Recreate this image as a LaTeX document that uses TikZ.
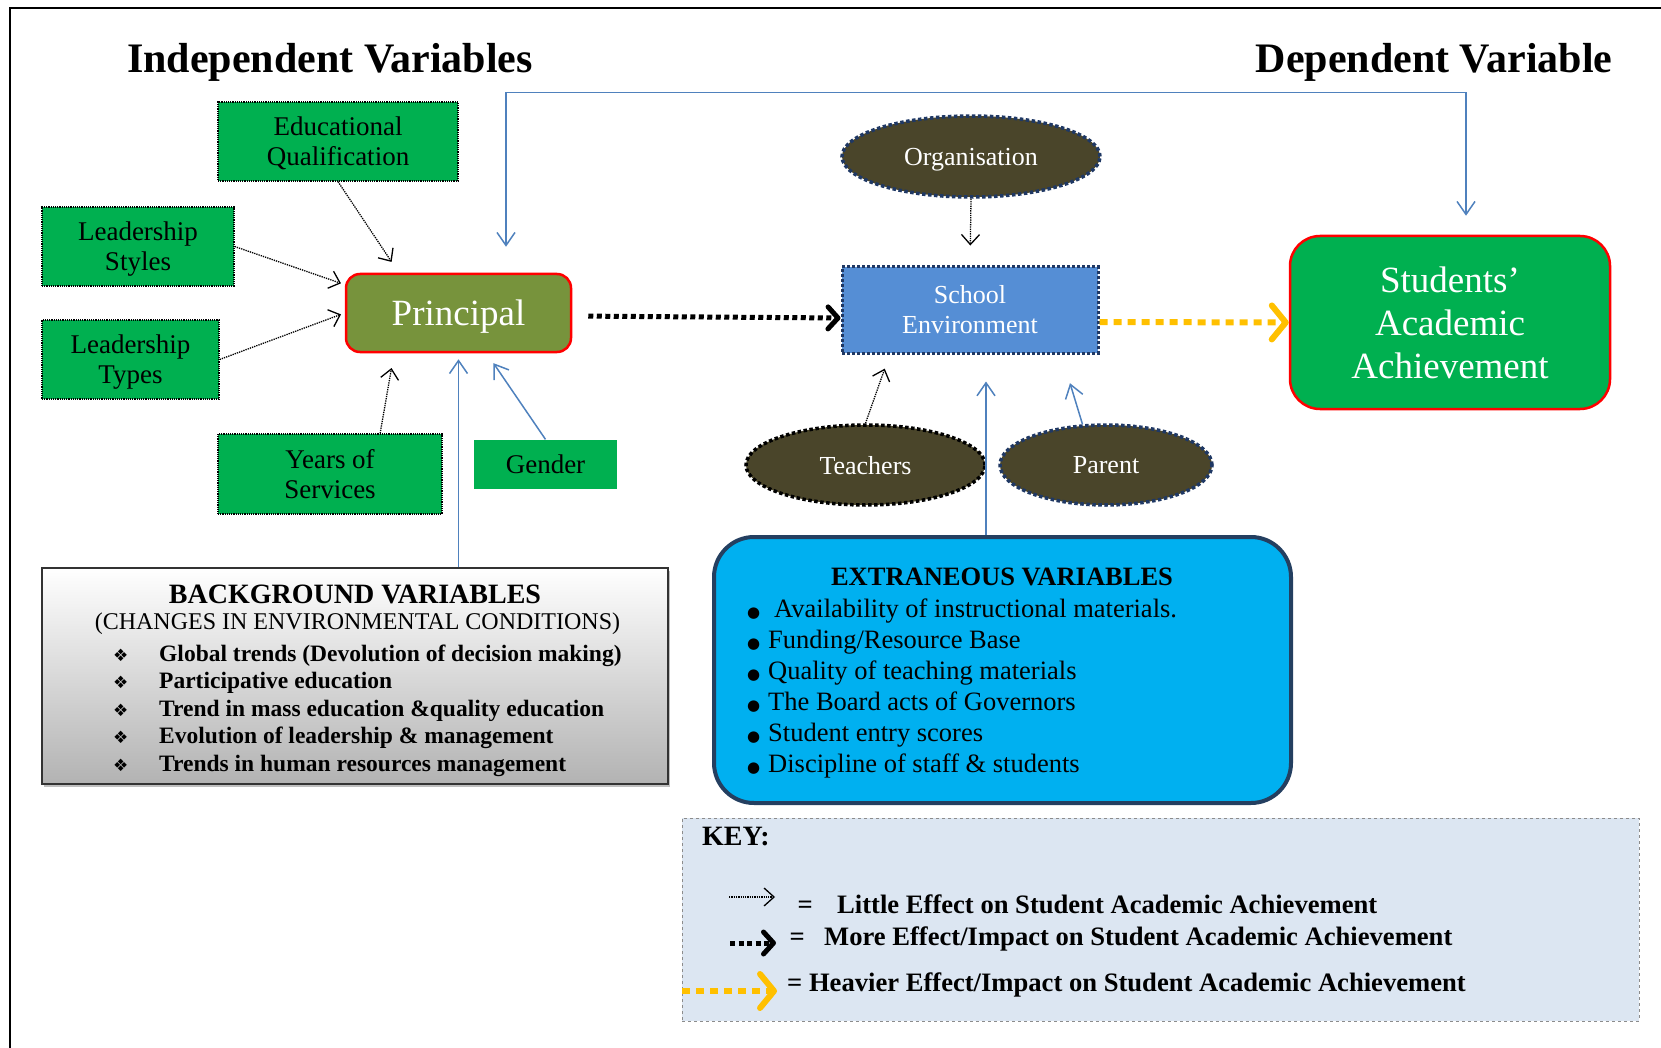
\documentclass[tikz,border=0pt]{standalone}
\usepackage{fontspec}
\setmainfont{Liberation Serif}
\newfontfamily\symfont{DejaVu Sans}
\usetikzlibrary{shapes.geometric, arrows.meta, calc, shadows}
\definecolor{vargreen}{RGB}{0,176,80}
\definecolor{princolive}{RGB}{119,147,60}
\definecolor{ovalbrown}{RGB}{74,69,42}
\definecolor{ovalnavy}{RGB}{31,56,100}
\definecolor{schoolblue}{RGB}{85,142,213}
\definecolor{linkblue}{RGB}{79,129,189}
\definecolor{extblue}{RGB}{0,176,240}
\definecolor{extborder}{RGB}{36,63,96}
\definecolor{keyfill}{RGB}{220,230,242}
\definecolor{heavyyellow}{RGB}{255,192,0}
\tikzstyle{indep} = [rectangle, draw=black, densely dotted, line width=1.2pt, fill=vargreen, align=center, inner sep=0pt, text depth=0pt, font=\fontsize{27}{30}\selectfont]
\tikzstyle{oval} = [ellipse, draw=ovalnavy, line width=3.5pt, dash pattern=on 3.5pt off 2.5pt, fill=ovalbrown, text=white, inner sep=0pt, text depth=0pt, font=\fontsize{26}{30}\selectfont]
\tikzstyle{outcome} = [rectangle, draw=red, line width=2.5pt, text=white, align=center]
\tikzstyle{littlearrow} = [line width=1.3pt, densely dotted, -{Straight Barb[length=10pt,width=18pt]}]
\tikzstyle{linkarrow} = [linkblue, line width=1.5pt, -{Straight Barb[length=13pt,width=18pt]}]
\tikzstyle{morearrow} = [line width=5pt, dash pattern=on 5pt off 3.5pt, -{Straight Barb[length=10pt,width=22pt,round]}]
\tikzstyle{heavyarrow} = [heavyyellow, line width=6pt, dash pattern=on 8pt off 6pt, -{Straight Barb[length=14pt,width=34pt,round]}]

\begin{document}
\begin{tikzpicture}[x=1pt, y=-1pt]
\useasboundingbox (0,0) rectangle (1661,1048);
\clip (0,0) rectangle (1661,1048);

% Frame
\draw[line width=2pt] (10,8) rectangle (1700,1100);

% Titles
\node[anchor=base, font=\fontsize{42}{48}\selectfont\bfseries] (indtitle) at (330,73) {Independent Variables};
\node[anchor=base, font=\fontsize{42}{48}\selectfont\bfseries] (deptitle) at (1434,73) {Dependent Variable};

% Independent variables
\node[indep, minimum width=240pt, minimum height=79pt] (edu) at (338,141.5) {Educational\\Qualification};
\node[indep, minimum width=192pt, minimum height=79pt] (styles) at (138,246.5) {Leadership\\Styles};
\node[indep, minimum width=177pt, minimum height=79pt] (types) at (130.5,359.5) {Leadership\\Types};
\node[indep, minimum width=224pt, minimum height=80pt] (years) at (330,474) {Years of\\Services};
\node[indep, draw=none, minimum width=143pt, minimum height=49pt] (gender) at (545.5,464.5) {Gender};

% Principal
\node[outcome, rounded corners=14pt, fill=princolive, minimum width=225pt, minimum height=78pt, text depth=0pt, font=\fontsize{37}{42}\selectfont] (prin) at (458.5,313) {Principal};

% School environment
\node[oval] (org) at (971,156.5) [minimum width=258pt, minimum height=81pt] {Organisation};
\node[rectangle, draw=ovalnavy, line width=3pt, dash pattern=on 3pt off 2pt, fill=schoolblue, text=white, align=center, minimum width=256pt, minimum height=86pt, font=\fontsize{26}{30}\selectfont] (school) at (970,310) {School\\Environment};
\node[oval, draw=black] (teach) at (865.5,465) [minimum width=239pt, minimum height=80pt] {Teachers};
\node[oval] (parent) at (1106,465) [minimum width=212pt, minimum height=80pt] {Parent};

% Dependent variable
\node[outcome, rounded corners=30pt, fill=vargreen, minimum width=320pt, minimum height=173pt, font=\fontsize{37}{43}\selectfont] (stud) at (1450,322.5) {Students’\\Academic\\Achievement};

% Background variables
\node[rectangle, draw=black!80, line width=1.5pt, top color=white, bottom color=black!30, drop shadow={shadow xshift=2pt, shadow yshift=-3pt}, minimum width=626pt, minimum height=216pt] (bg) at (355,676) {};
\node[font=\fontsize{28}{32}\selectfont\bfseries] (bgtitle) at (355,594) {BACKGROUND VARIABLES};
\node[font=\fontsize{24}{28}\selectfont] (bgsub) at (357.5,624) {(CHANGES IN ENVIRONMENTAL CONDITIONS)};
\node[anchor=base west, align=left, inner sep=0pt, font=\fontsize{23.5}{27.5}\selectfont\bfseries] (bglist) at (113,771) {
\makebox[46pt][l]{\symfont\fontsize{17}{17}\selectfont ❖}Global trends (Devolution of decision making)\\
\makebox[46pt][l]{\symfont\fontsize{17}{17}\selectfont ❖}Participative education\\
\makebox[46pt][l]{\symfont\fontsize{17}{17}\selectfont ❖}Trend in mass education \&quality education\\
\makebox[46pt][l]{\symfont\fontsize{17}{17}\selectfont ❖}Evolution of leadership \& management\\
\makebox[46pt][l]{\symfont\fontsize{17}{17}\selectfont ❖}Trends in human resources management
};

% Extraneous variables
\node[rectangle, rounded corners=40pt, draw=extborder, line width=4pt, fill=extblue, minimum width=577pt, minimum height=266pt] (ext) at (1002.5,670) {};
\node[font=\fontsize{26.5}{31}\selectfont\bfseries] (exttitle) at (1002,577) {EXTRANEOUS VARIABLES};
\node[anchor=base west, align=left, inner sep=0pt, font=\fontsize{26.5}{31}\selectfont] (extlist) at (747,772) {
\makebox[21pt][l]{\symfont\fontsize{15}{15}\selectfont ●}\hspace{6pt}Availability of instructional materials.\\
\makebox[21pt][l]{\symfont\fontsize{15}{15}\selectfont ●}Funding/Resource Base\\
\makebox[21pt][l]{\symfont\fontsize{15}{15}\selectfont ●}Quality of teaching materials\\
\makebox[21pt][l]{\symfont\fontsize{15}{15}\selectfont ●}The Board acts of Governors\\
\makebox[21pt][l]{\symfont\fontsize{15}{15}\selectfont ●}Student entry scores\\
\makebox[21pt][l]{\symfont\fontsize{15}{15}\selectfont ●}Discipline of staff \& students
};

% Key
\node[rectangle, draw=black!45, dashed, line width=0.8pt, fill=keyfill, minimum width=957pt, minimum height=203pt] (key) at (1160.5,919.5) {};
\node[anchor=base west, inner sep=0pt, font=\fontsize{28}{32}\selectfont\bfseries] (keytitle) at (702,845) {KEY:};
\coordinate (kl1) at (729,897);
\coordinate (kl2) at (775,897);
\coordinate (km1) at (730,943);
\coordinate (km2) at (776,943);
\coordinate (kh1) at (682,991);
\coordinate (kh2) at (777,991);
\draw[littlearrow] (kl1) -- (kl2);
\draw[morearrow] (km1) -- (km2);
\draw[heavyarrow] (kh1) -- (kh2);
\node[anchor=base west, inner sep=0pt, font=\fontsize{26.6}{31}\selectfont\bfseries] (keyeq1) at (797.5,913) {=};
\node[anchor=base west, inner sep=0pt, font=\fontsize{26.6}{31}\selectfont\bfseries] (keylittle) at (837,913) {Little Effect on Student Academic Achievement};
\node[anchor=base west, inner sep=0pt, font=\fontsize{26.6}{31}\selectfont\bfseries] (keyeq2) at (789.5,945) {=};
\node[anchor=base west, inner sep=0pt, font=\fontsize{26.6}{31}\selectfont\bfseries] (keymore) at (824,945) {More Effect/Impact on Student Academic Achievement};
\node[anchor=base west, inner sep=0pt, font=\fontsize{26.6}{31}\selectfont\bfseries] (keyheavy) at (787,991) {= Heavier Effect/Impact on Student Academic Achievement};

% Connections
\draw[littlearrow, shorten >=13pt] (edu.south) -- (prin.146.5);
\draw[littlearrow, shorten >=4pt] (styles.east) -- (prin.166.7);
\draw[littlearrow, shorten >=4pt] (types.east) -- (prin.west);
\draw[littlearrow, shorten >=15pt] (years.39) -- (prin.212);
\draw[linkarrow, shorten >=12pt] (gender.north) -- (prin.305.3);
\draw[linkarrow, shorten >=6pt] (bg.north -| prin.south) -- (prin.south);
\draw[linkblue, line width=1.5pt, {Straight Barb[length=13pt,width=18pt]}-{Straight Barb[length=13pt,width=18pt]}, shorten <=26pt, shorten >=19pt] ([xshift=47.5pt]prin.north) -- ++(0,-180) -| ([xshift=16pt]stud.north);
\draw[morearrow, shorten <=16pt] ([yshift=-3pt]prin.east) -- ([yshift=-8pt]school.west);
\draw[heavyarrow] ([yshift=-12pt]school.east) -- (stud.west);
\draw[littlearrow, shorten >=20pt] (org.south) -- (school.north);
\draw[littlearrow, shorten >=15pt] (teach.north) -- (school.209.2);
\draw[linkarrow, shorten >=30pt] (parent.120) -- (school.334);
\draw[linkarrow, shorten >=27pt] ([xshift=-16.5pt]ext.north) -- ([xshift=16pt]school.south);

\end{tikzpicture}
\end{document}
